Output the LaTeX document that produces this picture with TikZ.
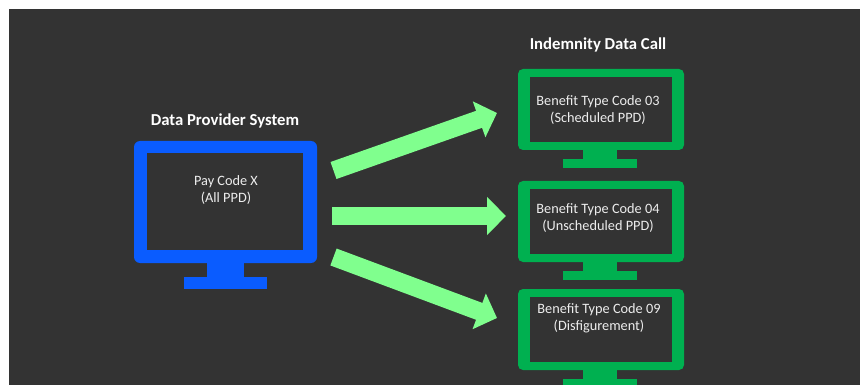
\documentclass[tikz,border=0pt]{standalone}
\usepackage{fontspec}
\setmainfont{Carlito}
\usetikzlibrary{arrows.meta}
\definecolor{bg}{HTML}{333333}
\definecolor{mgreen}{HTML}{00B050}
\definecolor{mblue}{HTML}{0A5CFF}
\definecolor{agreen}{HTML}{80FF8E}
\definecolor{txt}{HTML}{EDEDED}
\tikzset{
  bodytext/.style={text=txt, font=\fontsize{14.3}{17}\selectfont, align=center, inner sep=0pt},
  titletext/.style={text=white, font=\fontsize{16.7}{19}\selectfont\bfseries, inner sep=0pt},
  flowarrow/.style={draw=agreen, line width=18pt, -{Triangle[width=37pt,length=19pt]}},
}
\begin{document}
\begin{tikzpicture}[x=1pt,y=-1pt]
\useasboundingbox (0,0) rectangle (860,385);
\fill[white] (0,0) rectangle (860,385);
\fill[bg] (9,9) rectangle (860,385);

% blue monitor
\fill[mblue, rounded corners=6pt] (134,141) rectangle (317,263);
\fill[bg] (147,153) rectangle (303,250);
\fill[mblue] (207,262) rectangle (244,277);
\fill[mblue] (184,277) rectangle (267,289);

% green monitors
\foreach \t in {0,112,220}{
  \fill[mgreen, rounded corners=5pt] (518,69+\t) rectangle (684,150+\t);
  \fill[bg] (530,77+\t) rectangle (672,142+\t);
  \fill[mgreen] (583,149+\t) rectangle (617,159+\t);
  \fill[mgreen] (563,159+\t) rectangle (637,168+\t);
}

% titles
\node[titletext] (tprov) at (225,121) {Data Provider System};
\node[titletext] (tidc) at (598,45) {Indemnity Data Call};

% texts
\node[bodytext] (src) at (226,190.5) {Pay Code X\\(All PPD)};
\node[bodytext] (d03) at (598,110.5) {Benefit Type Code 03\\(Scheduled PPD)};
\node[bodytext] (d04) at (598,218) {Benefit Type Code 04\\(Unscheduled PPD)};
\node[bodytext] (d09) at (599,318.5) {Benefit Type Code 09\\(Disfigurement)};

% arrows
\coordinate (a1s) at (333.5,170.5);
\coordinate (a1e) at (497,113);
\coordinate (a2s) at (332,216);
\coordinate (a2e) at (506,216);
\coordinate (a3s) at (333.5,257);
\coordinate (a3e) at (497,318);
\draw[flowarrow] (a1s) -- (a1e);
\draw[flowarrow] (a2s) -- (a2e);
\draw[flowarrow] (a3s) -- (a3e);
\end{tikzpicture}
\end{document}
